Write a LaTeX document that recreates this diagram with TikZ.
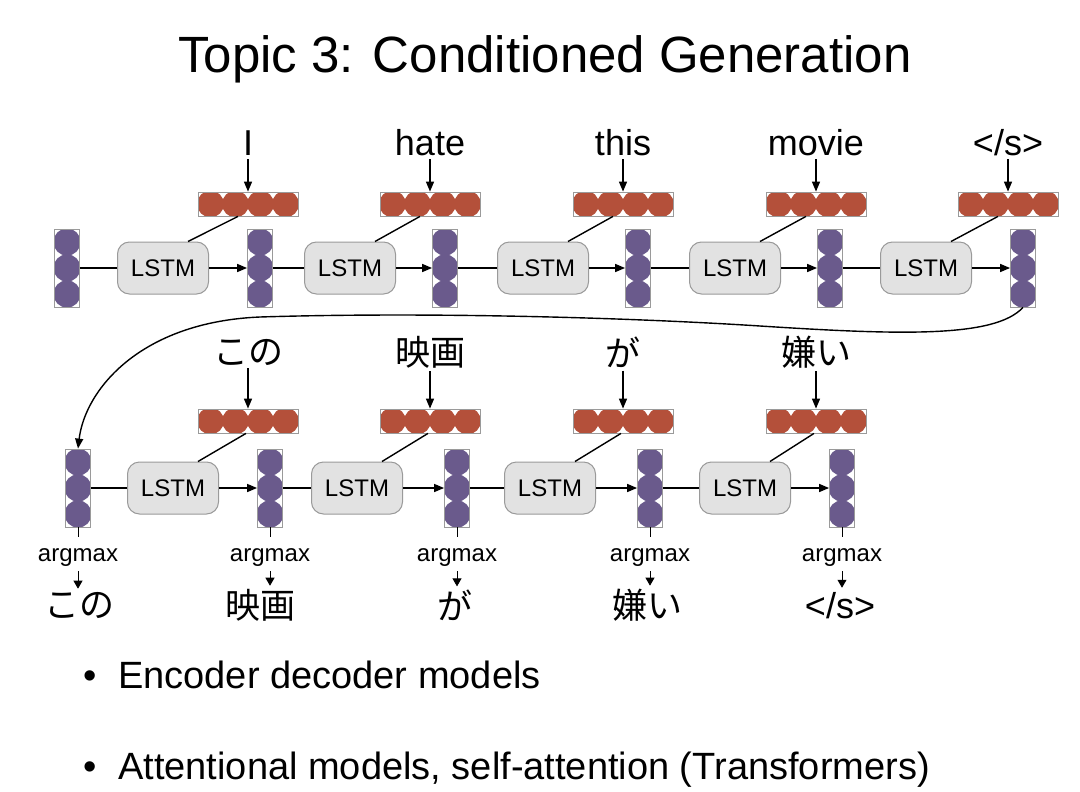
\documentclass[tikz,border=0pt]{standalone}
\usepackage{fontspec}
\setmainfont{Liberation Sans}
\newfontfamily\jp{Noto Sans CJK JP}
\usetikzlibrary{arrows.meta,calc}
\definecolor{vpurple}{HTML}{6A5A8C}
\definecolor{ered}{HTML}{B4503A}
\definecolor{lfill}{HTML}{E2E2E2}
\definecolor{ldraw}{HTML}{9A9A9A}
\tikzset{
  vvec/.style={draw=ldraw, line width=0.8pt, fill=white, minimum width=25pt, minimum height=78pt, inner sep=0pt,
    path picture={\foreach \k in {-1,0,1}{\fill[vpurple] ($(path picture bounding box.center)+(0pt,\k*26pt)$) circle (13.6pt);}}},
  hvec/.style={draw=ldraw, line width=0.8pt, fill=white, minimum width=100pt, minimum height=24pt, inner sep=0pt,
    path picture={\foreach \k in {-1.5,-0.5,0.5,1.5}{\fill[ered] ($(path picture bounding box.center)+(\k*25pt,0pt)$) circle (13.4pt);}}},
  lstm/.style={draw=ldraw, fill=lfill, rounded corners=12pt, minimum width=91pt, minimum height=52pt, line width=1pt, inner sep=0pt, font=\fontsize{24}{28}\selectfont},
  word/.style={font=\fontsize{36}{42}\selectfont, inner sep=4pt, text depth=0pt},
  jword/.style={font=\jp\fontsize{35}{40}\selectfont, inner sep=3pt},
  am/.style={font=\fontsize{24}{28}\selectfont, inner sep=1pt},
  bul/.style={font=\fontsize{38}{44}\selectfont, inner sep=0pt},
  conn/.style={line width=1.4pt, black},
  arr/.style={conn, -{Triangle[length=10pt,width=8pt]}},
  sarr/.style={line width=0.8pt, -{Triangle[length=8pt,width=9pt]}, shorten <=4pt}
}
\begin{document}
\begin{tikzpicture}[x=1pt,y=-1pt]
\useasboundingbox[fill=white] (0,0) rectangle (1080,792);
\node[font=\fontsize{51}{60}\selectfont, anchor=base, inner sep=0pt] (title) at (545,73) {Topic 3: Conditioned Generation};
% encoder
\foreach \i/\x in {0/67,1/260,2/445,3/638,4/830,5/1023} \node[vvec] (t\i) at (\x,268) {};
\foreach \i/\x in {1/163,2/350,3/543,4/735,5/926} \node[lstm] (l\i) at (\x,268) {LSTM};
\foreach \i/\x/\w in {1/248/I,2/430/hate,3/623/this,4/816/movie,5/1008/{</s>}} {
  \node[hvec] (e\i) at (\x,204) {};
  \node[word, anchor=base] (w\i) at (\x,155) {\w};
}
\foreach \i/\j in {1/0,2/1,3/2,4/3,5/4} {
  \draw[conn] (t\j.east) -- (l\i.west);
  \draw[arr] (l\i.east) -- (t\i.west);
  \draw[arr] (w\i.south) -- (e\i.north);
  \draw[conn] ($(e\i.south)+(-10,0)$) -- ($(l\i.north)+(25,0)$);
}
% decoder
\foreach \i/\x in {0/78,1/270,2/457,3/650,4/842} \node[vvec] (b\i) at (\x,488) {};
\foreach \i/\x in {1/173,2/357,3/550,4/745} \node[lstm] (bl\i) at (\x,488) {LSTM};
\foreach \i/\x/\w in {1/248/この,2/430/映画,3/623/が,4/816/嫌い} {
  \node[hvec] (be\i) at (\x,421) {};
  \node[jword] (jw\i) at (\x,352) {\w};
}
\foreach \i/\j in {1/0,2/1,3/2,4/3} {
  \draw[conn] (b\j.east) -- (bl\i.west);
  \draw[arr] (bl\i.east) -- (b\i.west);
  \draw[arr] (jw\i.south) -- (be\i.north);
  \draw[conn] ($(be\i.south)+(-2,0)$) -- ($(bl\i.north)+(25,0)$);
}
% link
\draw[arr] (t5.south) .. controls (995,338) and (900,335) .. (760,326)
  .. controls (620,317) and (420,312) .. (260,317)
  .. controls (140,322) and (85,390) .. (b0.north);
% outputs
\foreach \i/\x/\ox/\w/\f in {0/78/80/この/jword,1/270/260/映画/jword,2/457/455/が/jword,3/650/647/嫌い/jword,4/842/840/{</s>}/word} {
  \node[am, anchor=base] (a\i) at (\x,561) {argmax};
  \node[\f, anchor=center] (o\i) at (\ox,605) {\w};
  \draw[line width=1pt, shorten >=10pt] (b\i.south) -- (a\i.north);
  \draw[sarr] (a\i.south) -- (a\i.south |- o\i.north);
}
% bullets
\node[bul, anchor=base] (d1) at (90,688) {\textbullet};
\node[bul, anchor=base west] (p1) at (118,688) {Encoder decoder models};
\node[bul, anchor=base] (d2) at (90,779) {\textbullet};
\node[bul, anchor=base west] (p2) at (118,779) {Attentional models, self-attention (Transformers)};
\end{tikzpicture}
\end{document}
